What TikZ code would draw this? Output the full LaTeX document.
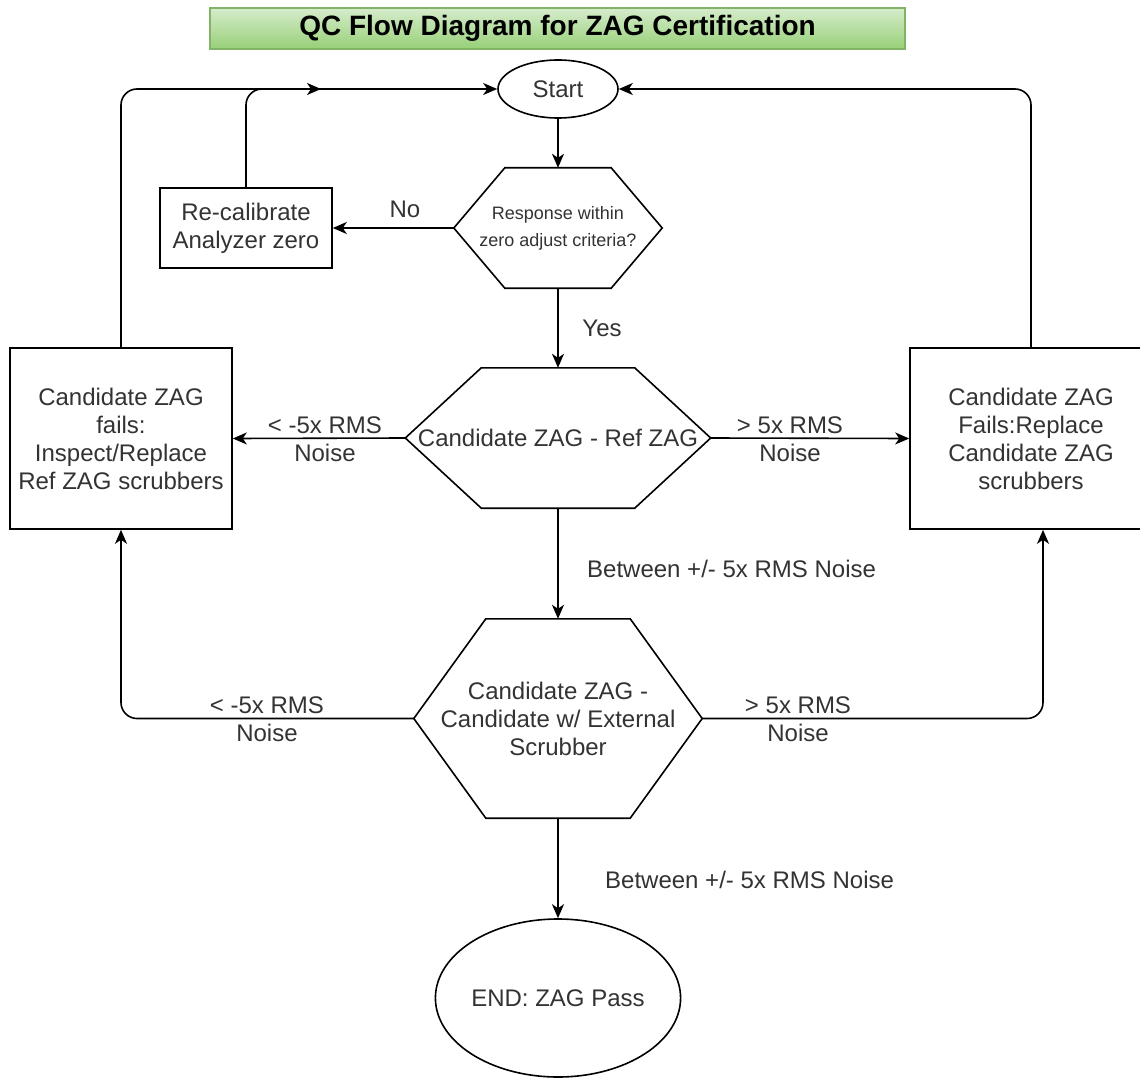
\documentclass[tikz,border=0pt]{standalone}
\usepackage{fontspec}
\setmainfont{Liberation Sans}
\usetikzlibrary{shapes.geometric,arrows.meta,calc}
\definecolor{txt}{HTML}{333333}
\definecolor{gtop}{RGB}{214,236,204}
\definecolor{gbot}{RGB}{151,208,119}
\definecolor{gborder}{RGB}{130,179,102}
\newcommand\hexdraw[2]{\draw[shapeline] (#1.west) -- ($(#1.north west)+(#2,0)$) -- ($(#1.north east)+(-#2,0)$) -- (#1.east) -- ($(#1.south east)+(-#2,0)$) -- ($(#1.south west)+(#2,0)$) -- cycle;}
\begin{document}
\begin{tikzpicture}[x=1pt,y=-1pt,
  shapeline/.style={line width=1.6pt, draw=black},
  base/.style={font=\fontsize{24}{28}\selectfont, text=txt, align=center, inner sep=0pt},
  boxnode/.style={base, rectangle, shapeline},
  hexnode/.style={base, rectangle, draw=none},
  ellnode/.style={base, ellipse, shapeline},
  lbl/.style={base},
  conn/.style={line width=1.6pt, -{Stealth[length=14pt,width=12pt,inset=4pt]}},
  rc/.style={rounded corners=16pt}
]
\useasboundingbox (0,0) rectangle (1140,1078);
\fill[white] (0,0) rectangle (1140,1078);

% title
\node[draw=gborder, line width=1.2pt, top color=gtop, bottom color=gbot,
      minimum width=695pt, minimum height=41pt, inner sep=0pt,
      font=\bfseries\fontsize{28}{32}\selectfont, text=black] (title) at (557.5,28.5)
      {QC Flow Diagram for ZAG Certification};

% nodes
\node[ellnode, minimum width=120pt, minimum height=58pt] (start) at (558,89) {Start};
\node[hexnode, minimum width=208pt, minimum height=120pt, font=\fontsize{18}{27}\selectfont] (hex1) at (558,228) {Response within\\zero adjust criteria?};
\hexdraw{hex1}{51}
\node[boxnode, minimum width=172pt, minimum height=80pt] (recal) at (246,228) {Re-calibrate\\Analyzer zero};
\node[hexnode, minimum width=305pt, minimum height=140pt] (hex2) at (558,438) {Candidate ZAG - Ref ZAG};
\hexdraw{hex2}{76}
\node[boxnode, minimum width=222pt, minimum height=181pt] (leftbox) at (121,438.5) {Candidate ZAG\\fails:\\Inspect/Replace\\Ref ZAG scrubbers};
\node[boxnode, minimum width=242pt, minimum height=181pt] (rightbox) at (1031,438.5) {Candidate ZAG\\Fails:Replace\\Candidate ZAG\\scrubbers};
\node[hexnode, minimum width=288pt, minimum height=199pt] (hex3) at (558,718.5) {Candidate ZAG -\\Candidate w/ External\\Scrubber};
\hexdraw{hex3}{72}
\node[ellnode, minimum width=241pt, minimum height=158pt] (endn) at (558,998) {END: ZAG Pass};

\coordinate (recalend) at (321,89);
\coordinate (rbin) at ($(rightbox.south)+(12,0)$);

% connectors
\draw[conn] (start) -- (hex1.north);
\draw[conn] (hex1.west) -- (recal.east);
\draw[conn, rc] (recal.north) |- (recalend);
\draw[conn, rc] (leftbox.north) |- (start.west);
\draw[conn, rc] (rightbox.north) |- (start.east);
\draw[conn] (hex1.south) -- (hex2.north);
\draw[conn] (hex2.west) -- (leftbox.east);
\draw[conn] (hex2.east) -- (rightbox.west);
\draw[conn] (hex2.south) -- (hex3.north);
\draw[conn, rc] (hex3.west) -| (leftbox.south);
\draw[conn, rc] (hex3.east) -| (rbin);
\draw[conn] (hex3.south) -- (endn.north);

% labels
\node[lbl] (lno) at (405,209) {No};
\node[lbl] (lyes) at (602,328) {Yes};
\node[lbl] (l1) at (325,439) {< -5x RMS\\Noise};
\node[lbl] (l2) at (790,439) {> 5x RMS\\Noise};
\node[lbl, anchor=west] (l3) at (587,569) {Between +/- 5x RMS Noise};
\node[lbl] (l4) at (267,719.5) {< -5x RMS\\Noise};
\node[lbl] (l5) at (798,719.5) {> 5x RMS\\Noise};
\node[lbl, anchor=west] (l6) at (605,880) {Between +/- 5x RMS Noise};
\end{tikzpicture}
\end{document}
